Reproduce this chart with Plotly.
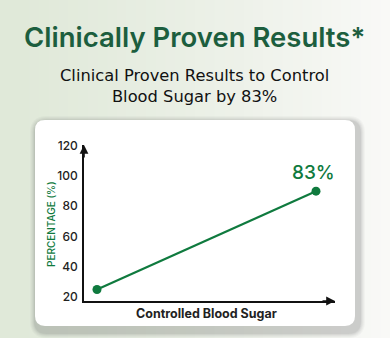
import plotly.graph_objects as go

# Data
categories = [0, 1]
values = [25, 90]
point_label = "83%"
tick_vals = [20, 40, 60, 80, 100, 120]
tick_text = ["20", "40", "60", "80", "100", "120"]
title_text = "Clinically Proven Results*"
subtitle_text = "Clinical Proven Results to Control<br>Blood Sugar by 83%"
x_title = "Controlled Blood Sugar"
y_title = "PERCENTAGE (%)"

W, H = 390, 338
L, R, T, B = 84, 55, 145, 37
pw, ph = W - L - R, H - T - B

def px2paper_x(px):
    return (px - L) / pw

def py2paper_y(py):
    return (H - B - py) / ph

GREEN = "#0f7a3e"
DARK_GREEN = "#1c5e3e"

fig = go.Figure()
fig.add_trace(go.Scatter(
    x=categories, y=values, mode="lines+markers",
    line=dict(color=GREEN, width=2.2),
    marker=dict(color=GREEN, size=9),
    hoverinfo="skip", showlegend=False, cliponaxis=False,
))

shapes = []
# background gradient (vertical strips)
n = 40
c0 = (224, 233, 217)
c1 = (249, 249, 247)
for i in range(n):
    t = i / (n - 1)
    t2 = t ** 1.2
    c = tuple(int(c0[k] + (c1[k] - c0[k]) * t2) for k in range(3))
    x0 = W * i / n
    x1 = W * (i + 1) / n + 1
    shapes.append(dict(type="rect", xref="paper", yref="paper", layer="below",
                       x0=px2paper_x(x0), x1=px2paper_x(x1),
                       y0=py2paper_y(H), y1=py2paper_y(0),
                       line=dict(width=0), fillcolor="rgb(%d,%d,%d)" % c))

def rounded_path(x0, y0, x1, y1, r):
    def P(x, y):
        return "%f,%f" % (px2paper_x(x), py2paper_y(y))
    return ("M " + P(x0 + r, y0) + " L " + P(x1 - r, y0) + " Q " + P(x1, y0) + " " + P(x1, y0 + r) +
            " L " + P(x1, y1 - r) + " Q " + P(x1, y1) + " " + P(x1 - r, y1) +
            " L " + P(x0 + r, y1) + " Q " + P(x0, y1) + " " + P(x0, y1 - r) +
            " L " + P(x0, y0 + r) + " Q " + P(x0, y0) + " " + P(x0 + r, y0) + " Z")

# shadow
for i, a in enumerate([0.03, 0.035, 0.045, 0.055, 0.07]):
    g = 7 - i
    shapes.append(dict(type="path", xref="paper", yref="paper", layer="below",
                       path=rounded_path(35 - g + 2, 120 - g + 3, 355 + g + 3, 326 + g + 5, 10 + g),
                       line=dict(width=0), fillcolor="rgba(60,60,60,%f)" % a))
# card
shapes.append(dict(type="path", xref="paper", yref="paper", layer="below",
                   path=rounded_path(35, 120, 355, 326, 10),
                   line=dict(width=0), fillcolor="white"))

annotations = [
    dict(text=title_text, xref="paper", yref="paper",
         x=px2paper_x(194), y=py2paper_y(37), xanchor="center", yanchor="middle",
         showarrow=False, font=dict(family="Inter", size=27.5, weight=600, color=DARK_GREEN)),
    dict(text=subtitle_text, xref="paper", yref="paper",
         x=px2paper_x(194), y=py2paper_y(86), xanchor="center", yanchor="middle",
         showarrow=False, font=dict(family="DejaVu Sans", size=16.3, color="#111111")),
    dict(text=point_label, x=categories[1], y=values[1], yshift=19, xshift=-3,
         showarrow=False, font=dict(family="Inter", size=19, weight=500, color=GREEN)),
    # x axis arrow
    dict(text="", xref="paper", yref="paper", x=1.0, y=0.0,
         ax=-14, ay=0, showarrow=True, arrowhead=2, arrowsize=1.1, arrowwidth=1.6,
         arrowcolor="#111111"),
    # y axis arrow
    dict(text="", xref="paper", yref="paper", x=0.0, y=1.0,
         ax=0, ay=14, showarrow=True, arrowhead=2, arrowsize=1.1, arrowwidth=1.6,
         arrowcolor="#111111"),
    dict(text=y_title, xref="paper", yref="paper", x=px2paper_x(51), y=py2paper_y(224),
         xanchor="center", yanchor="middle", textangle=-90, showarrow=False,
         font=dict(family="Inter", size=10, weight=500, color=GREEN)),
    dict(text=x_title, xref="paper", yref="paper", x=px2paper_x(206),
         y=py2paper_y(313), xanchor="center", yanchor="middle", showarrow=False,
         font=dict(family="Inter", size=12.5, weight=700, color="#222222")),
]

x_lo = -(97 - 84) / 219
x_hi = 1 + (335 - 316) / 219

fig.update_layout(
    width=W, height=H,
    margin=dict(l=L, r=R, t=T, b=B, pad=0),
    paper_bgcolor="#eef2ea", plot_bgcolor="rgba(0,0,0,0)",
    shapes=shapes, annotations=annotations,
    xaxis=dict(range=[x_lo, x_hi], showgrid=False, zeroline=False, showticklabels=False,
               ticks="", showline=True, linecolor="#111111", linewidth=1.6, fixedrange=True),
    yaxis=dict(range=[17.4, 120.5], showgrid=False, zeroline=False,
               tickvals=tick_vals, ticktext=tick_text, ticks="", ticklabelstandoff=2,
               tickfont=dict(family="Inter", size=12, weight=500, color="#222222"),
               showline=True, linecolor="#111111", linewidth=1.6, fixedrange=True),
    font=dict(family="Inter"),
)

fig.write_html("out.html", config={"displayModeBar": False})
